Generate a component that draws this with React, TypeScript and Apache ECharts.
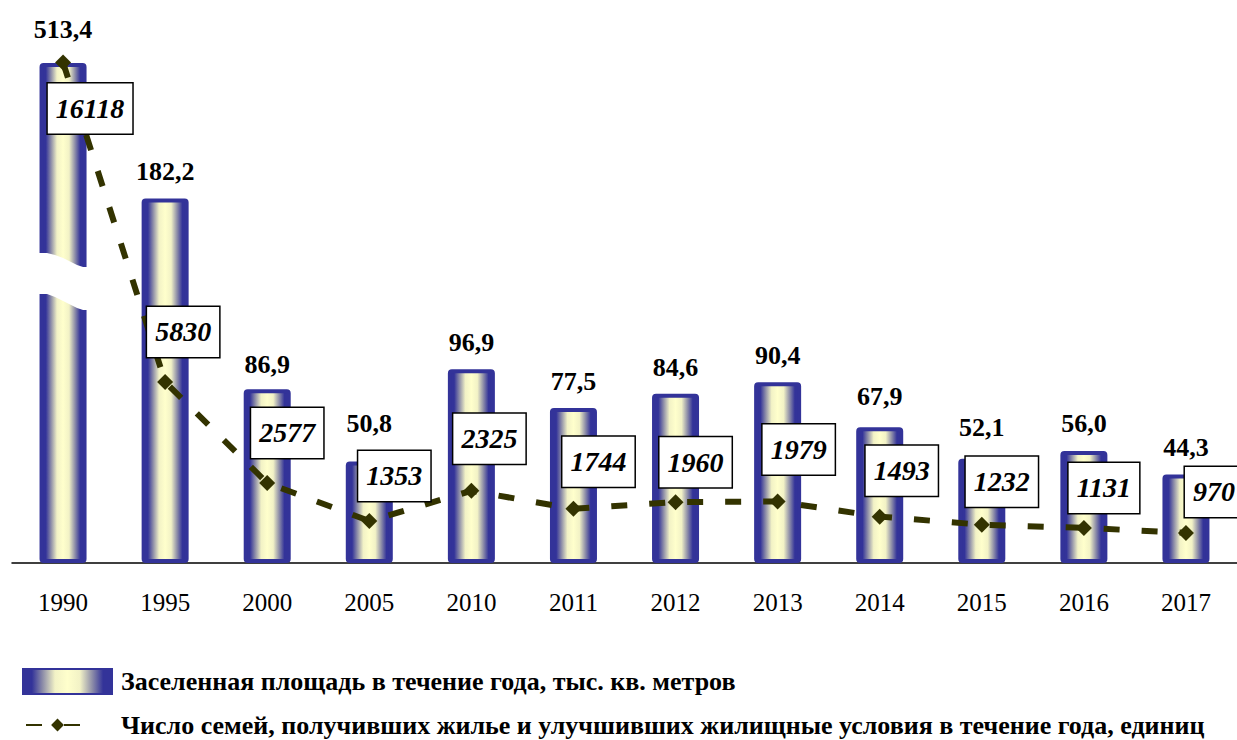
import React, { useEffect, useRef } from "react";
import * as echarts from "echarts";

const years = ["1990", "1995", "2000", "2005", "2010", "2011", "2012", "2013", "2014", "2015", "2016", "2017"];
const areaValues = [513.4, 182.2, 86.9, 50.8, 96.9, 77.5, 84.6, 90.4, 67.9, 52.1, 56.0, 44.3];
const familyValues = [16118, 5830, 2577, 1353, 2325, 1744, 1960, 1979, 1493, 1232, 1131, 970];
const areaName = "Заселенная площадь в течение года, тыс. кв. метров";
const familyName = "Число семей, получивших жилье и улучшивших жилищные условия в течение года, единиц";

// the area axis is broken: bars taller than its top are drawn up to the top
const areaAxisMax = 250;
const areaBreakValue = 140;
const familyAxisMax = 16100;

// styling: where each boxed label sits relative to its marker (px)
const familyLabelShift = [
  [27, 46], [18, -50], [20, -50], [25, -45], [18, -52], [25, -47],
  [20, -40], [21, -52], [22, -46], [20, -43], [20, -40], [28, -41],
];
// styling: extra lift of a few value labels above their bars (px)
const areaLabelDistance = [21, 14, 12, 25, 14, 14, 13, 14, 18, 18, 15, 14];

const SERIF = '"Liberation Serif", "Times New Roman", serif';
const fmtArea = (v: number) => v.toFixed(1).replace(".", ",");

const barGradient = () =>
  new echarts.graphic.LinearGradient(0, 0, 1, 0, [
    { offset: 0, color: "#333399" },
    { offset: 0.1, color: "#333399" },
    { offset: 0.22, color: "#8c8ca8" },
    { offset: 0.36, color: "#f2f2c6" },
    { offset: 0.5, color: "#ffffcc" },
    { offset: 0.64, color: "#f2f2c6" },
    { offset: 0.78, color: "#8c8ca8" },
    { offset: 0.9, color: "#333399" },
    { offset: 1, color: "#333399" },
  ]);

export default function App() {
  const ref = useRef<HTMLDivElement>(null);
  useEffect(() => {
    if (!ref.current) return;
    const chart = echarts.init(ref.current, null, { renderer: "svg" });
    const gridBox = { left: 12, right: 0, top: 63, height: 500 };
    chart.setOption({
      animation: false,
      backgroundColor: "#fff",
      grid: [gridBox, gridBox],
      xAxis: [
        {
          type: "category",
          gridIndex: 0,
          data: years,
          boundaryGap: true,
          axisLine: { lineStyle: { color: "#000", width: 1.5 } },
          axisTick: { length: 8, lineStyle: { color: "#000", width: 1.5 } },
          axisLabel: { color: "#000", fontFamily: SERIF, fontSize: 25, margin: 27 },
        },
        {
          type: "category",
          gridIndex: 1,
          data: years,
          boundaryGap: true,
          axisLine: { show: false },
          axisTick: { inside: true, length: 8, lineStyle: { color: "#000", width: 1.5 } },
          axisLabel: { show: false },
        },
      ],
      yAxis: [
        { type: "value", gridIndex: 0, min: 0, max: areaAxisMax, show: false },
        { type: "value", gridIndex: 0, min: 0, max: familyAxisMax, show: false },
        { type: "value", gridIndex: 1, min: 0, max: 1, show: false },
      ],
      legend: [
        {
          data: [{ name: areaName, icon: "rect" }],
          left: 22,
          top: 668,
          padding: 0,
          itemWidth: 89,
          itemHeight: 25,
          textStyle: {
            color: "#000",
            fontFamily: SERIF,
            fontWeight: "bold",
            fontSize: 26,
            lineHeight: 25,
            padding: [0, 0, 0, 4],
          },
        },
        {
          data: [familyName],
          left: 25,
          top: 712,
          padding: 0,
          itemWidth: 63,
          itemHeight: 16,
          textStyle: {
            color: "#000",
            fontFamily: SERIF,
            fontWeight: "bold",
            fontSize: 26,
            lineHeight: 26,
            padding: [0, 0, 0, 27],
          },
        },
      ],
      series: [
        {
          type: "bar",
          name: areaName,
          xAxisIndex: 0,
          yAxisIndex: 0,
          barWidth: 47,
          data: areaValues.map((v, i) => ({
            value: Math.min(v, areaAxisMax),
            label: { distance: areaLabelDistance[i] },
          })),
          itemStyle: {
            color: barGradient(),
            borderColor: "#333399",
            borderWidth: 4,
            borderRadius: 2,
          },
          label: {
            show: true,
            position: "top",
            formatter: (p: any) => fmtArea(areaValues[p.dataIndex]),
            color: "#000",
            fontFamily: SERIF,
            fontWeight: "bold",
            fontSize: 26,
          },
          z: 2,
        },
        {
          type: "line",
          name: familyName,
          xAxisIndex: 0,
          yAxisIndex: 1,
          clip: false,
          data: familyValues.map((v, i) => ({
            value: v,
            label: { offset: familyLabelShift[i] },
          })),
          symbol: "diamond",
          symbolSize: 16,
          lineStyle: { color: "#333300", width: 6, type: [16, 22] },
          itemStyle: { color: "#333300" },
          label: {
            show: true,
            position: "inside",
            color: "#000",
            fontFamily: SERIF,
            fontStyle: "italic",
            fontWeight: "bold",
            fontSize: 28,
            lineHeight: 30,
            backgroundColor: "#fff",
            borderColor: "#000",
            borderWidth: 1.5,
            padding: [10, 8],
          },
          z: 20,
        },
      ],
    });

    // white break band across the truncated bar
    const brokenIdx = areaValues.findIndex((v) => v > areaAxisMax);
    if (brokenIdx >= 0) {
      const pt = chart.convertToPixel({ seriesIndex: 0 }, [brokenIdx, areaBreakValue]) as number[];
      const [cx, cy] = pt;
      const top = [[-28, -30], [-16, -30], [-8, -28], [0, -25], [8, -21], [14, -18], [20, -16], [28, -16]];
      const bottom = [[28, 27], [20, 27], [14, 25], [8, 22], [0, 18], [-8, 14], [-16, 11], [-28, 11]];
      const points = [...top, ...bottom].map(([dx, dy]) => [cx + dx, cy + dy]);
      chart.setOption({
        graphic: [{ type: "polygon", shape: { points }, style: { fill: "#fff" }, z: 10 }],
      });
    }
    return () => chart.dispose();
  }, []);
  return <div ref={ref} style={{ position: "absolute", left: 0, top: 0, width: 1237, height: 740 }} />;
}
